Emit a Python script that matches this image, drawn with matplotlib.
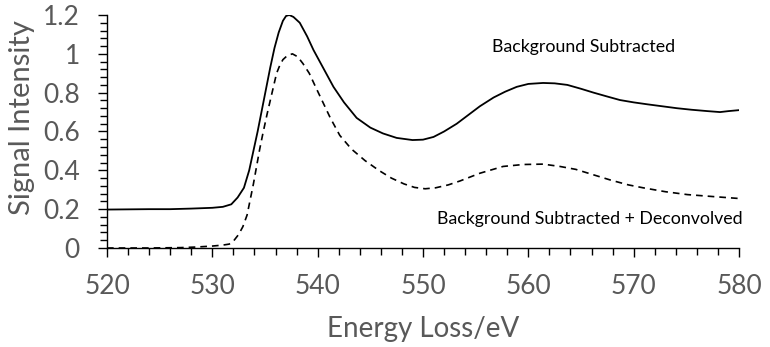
import matplotlib
matplotlib.use("Agg")
import matplotlib.pyplot as plt
from matplotlib.ticker import MultipleLocator, FuncFormatter

plt.rcParams['font.family'] = ['Lato', 'DejaVu Sans']

# background subtracted spectrum (solid)
sub_x = [520, 522, 524, 526, 528, 530, 531, 531.8, 532.4, 533.0, 533.5, 533.9, 534.3,
         534.7, 535.1, 535.5, 535.9, 536.3, 536.7, 537.0, 537.3, 537.7, 538.3, 539.0,
         539.6, 540.5, 541.5, 542.5, 543.7, 545, 546.2, 547.5, 549, 550, 551, 552,
         553.2, 554.3, 555.4, 556.7, 557.8, 558.9, 560, 561.4, 562.5, 563.7, 565,
         566.2, 567.5, 568.7, 570, 571.3, 572.7, 574.1, 575.5, 577, 578.2, 579, 580]
sub_y = [0.198, 0.199, 0.200, 0.200, 0.203, 0.207, 0.212, 0.225, 0.26, 0.31, 0.40, 0.50, 0.60,
         0.71, 0.82, 0.93, 1.03, 1.11, 1.17, 1.195, 1.20, 1.19, 1.16, 1.09,
         1.02, 0.93, 0.83, 0.75, 0.67, 0.62, 0.59, 0.567, 0.556, 0.558, 0.572, 0.60,
         0.64, 0.685, 0.73, 0.775, 0.805, 0.83, 0.845, 0.85, 0.848, 0.84, 0.82,
         0.80, 0.78, 0.762, 0.75, 0.74, 0.73, 0.72, 0.712, 0.705, 0.70, 0.705, 0.71]

# background subtracted + deconvolved (dashed)
dec_x = [520, 524, 527, 528.5, 530, 531, 531.6, 532.0, 532.5, 532.9, 533.3, 533.6, 533.9,
         534.2, 534.5, 534.8, 535.2, 535.5, 535.8, 536.1, 536.4, 536.7, 537.1, 537.6,
         538.1, 538.6, 539.2, 539.8, 540.5, 541.2, 542.1, 543.2, 544.5, 545.8, 547,
         548.2, 549.2, 550.2, 551.2, 552.4, 553.5, 555.4, 557.6, 559.5, 561.4, 563,
         564.5, 566, 567.8, 569.5, 570.9, 573, 575.1, 577.5, 580]
dec_y = [0.0, 0.0, 0.002, 0.005, 0.01, 0.015, 0.02, 0.035, 0.07, 0.11, 0.17, 0.25, 0.33,
         0.42, 0.51, 0.59, 0.69, 0.76, 0.83, 0.90, 0.94, 0.97, 0.99, 1.0,
         0.985, 0.95, 0.90, 0.83, 0.75, 0.67, 0.58, 0.51, 0.45, 0.40, 0.36,
         0.33, 0.312, 0.305, 0.31, 0.325, 0.345, 0.385, 0.42, 0.43, 0.432, 0.42,
         0.405, 0.38, 0.35, 0.325, 0.31, 0.29, 0.275, 0.265, 0.255]

gray = '#595959'

fig = plt.figure(figsize=(7.7, 3.47), dpi=100)
ax = fig.add_axes([107/770, 1-248/347, (739-107)/770, (248-15)/347])

ax.plot(sub_x, sub_y, color='black', lw=1.3)
ax.plot(dec_x, dec_y, color='black', lw=1.2, dashes=(4, 3))

ax.text(565.2, 1.009, 'Background Subtracted', ha='center', va='baseline', fontsize=12.8)
ax.text(565.8, 0.124, 'Background Subtracted + Deconvolved', ha='center', va='baseline',
        fontsize=12.8)

ax.set_xlim(520, 580)
ax.set_ylim(0, 1.2)
ax.xaxis.set_major_locator(MultipleLocator(10))
ax.xaxis.set_minor_locator(MultipleLocator(2))
ax.yaxis.set_major_locator(MultipleLocator(0.2))
ax.yaxis.set_minor_locator(MultipleLocator(0.04))
ax.yaxis.set_major_formatter(FuncFormatter(lambda v, p: f"{v:g}"))

for s in ['top', 'right']:
    ax.spines[s].set_visible(False)
for s in ['left', 'bottom']:
    ax.spines[s].set_linewidth(1.0)

ax.tick_params(which='major', direction='out', length=6.5, width=1.0,
               labelsize=19, labelcolor=gray)
ax.tick_params(which='minor', direction='out', length=5, width=1.0)
ax.tick_params(axis='x', which='major', pad=12)
ax.tick_params(axis='y', which='major', pad=13)

ax.set_xlabel('Energy Loss/eV', fontsize=20, color=gray)
ax.xaxis.set_label_coords(0.5, -0.382)
ax.xaxis.label.set_va('baseline')
ax.set_ylabel('Signal Intensity', fontsize=21, color=gray)
ax.yaxis.set_label_coords(-0.135, (248-118)/233)
ax.yaxis.label.set_va('center')

fig.savefig('out.png', dpi=100)
